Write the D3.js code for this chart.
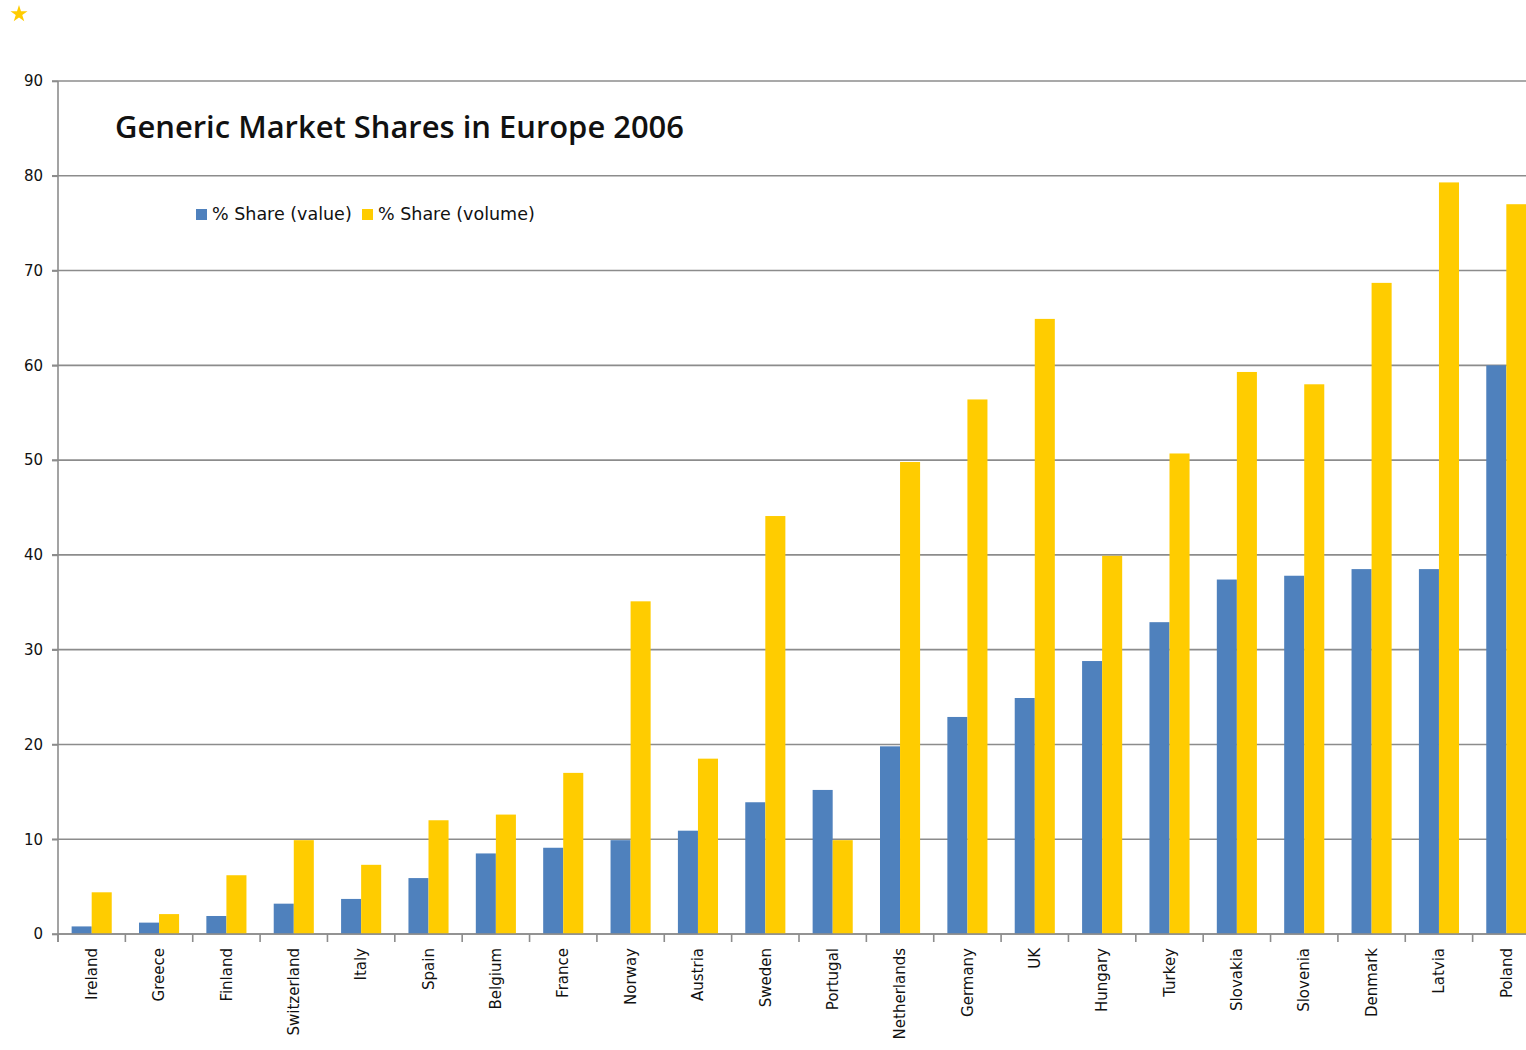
<!DOCTYPE html>
<html>
<head>
<meta charset="utf-8">
<script src="https://cdn.jsdelivr.net/npm/d3@7"></script>
<style>
  body { margin: 0; background: #fff; }
  svg { display: block; }
</style>
</head>
<body>
<script>
// data
const countries = ["Ireland", "Greece", "Finland", "Switzerland", "Italy", "Spain", "Belgium", "France",
  "Norway", "Austria", "Sweden", "Portugal", "Netherlands", "Germany", "UK", "Hungary", "Turkey",
  "Slovakia", "Slovenia", "Denmark", "Latvia", "Poland"]
const shareValue = [0.8, 1.2, 1.9, 3.2, 3.7, 5.9, 8.5, 9.1, 9.9, 10.9, 13.9, 15.2, 19.8, 22.9, 24.9,
  28.8, 32.9, 37.4, 37.8, 38.5, 38.5, 60.0]
const shareVolume = [4.4, 2.1, 6.2, 9.9, 7.3, 12.0, 12.6, 17.0, 35.1, 18.5, 44.1, 9.9, 49.8, 56.4, 64.9,
  39.9, 50.7, 59.3, 58.0, 68.7, 79.3, 77.0]
const seriesNames = ["% Share (value)", "% Share (volume)"]
const yTicks = [0, 10, 20, 30, 40, 50, 60, 70, 80, 90]

const colors = ["#4f81bd", "#ffcc00"]
const W = 1526, H = 1050
const margin = {top: 81, left: 58, bottom: 116}
const plotRight = 1540

const svg = d3.select('body').append('svg')
    .attr('width', W)
    .attr('height', H)

const x = d3.scaleBand()
    .domain(countries)
    .range([margin.left, plotRight])
    .paddingInner(0)
    .paddingOuter(0)

// two bars per country, gap width roughly 70%
const xSub = d3.scaleBand()
    .domain([0, 1])
    .range([0, x.bandwidth()])
    .paddingInner(0)
    .paddingOuter(0.68)

const y = d3.scaleLinear()
    .domain([0, 90])
    .range([H - margin.bottom, margin.top])

// gridlines
svg.append('g')
    .selectAll('line')
    .data(yTicks)
    .join('line')
        .attr('x1', margin.left - 6)
        .attr('x2', W)
        .attr('y1', d => y(d))
        .attr('y2', d => y(d))
        .attr('stroke', '#8c8c8c')
        .attr('stroke-width', 1.6)

// bars
const rows = countries.map((c, i) => ({country: c, vals: [shareValue[i], shareVolume[i]]}))
svg.append('g')
    .selectAll('g')
    .data(rows)
    .join('g')
        .attr('transform', d => 'translate(' + x(d.country) + ',0)')
    .selectAll('rect')
    .data(d => d.vals.map((v, k) => ({k: k, v: v})))
    .join('rect')
        .attr('x', d => xSub(d.k))
        .attr('width', xSub.bandwidth())
        .attr('y', d => y(d.v))
        .attr('height', d => y(0) - y(d.v))
        .attr('fill', d => colors[d.k])

// y axis
const yAxis = svg.append('g')
    .attr('transform', 'translate(' + margin.left + ',0)')
    .call(d3.axisLeft(y).tickValues(yTicks).tickSize(6).tickPadding(9))
yAxis.select('.domain').attr('stroke', '#8c8c8c').attr('stroke-width', 1.6)
    .attr('d', 'M0,' + y(90) + 'V' + (y(0) + 8))
yAxis.selectAll('.tick line').attr('stroke', '#8c8c8c').attr('stroke-width', 1.6)
yAxis.selectAll('text')
    .attr('font-family', 'Verdana, "DejaVu Sans", sans-serif')
    .attr('font-size', 15)
    .attr('fill', '#111')

// x axis
const xAxis = svg.append('g')
    .attr('transform', 'translate(0,' + y(0) + ')')
    .call(d3.axisBottom(x).tickSize(0).tickPadding(0))
xAxis.select('.domain').remove()
xAxis.selectAll('.tick text')
    .attr('transform', 'rotate(-90)')
    .attr('x', -14)
    .attr('y', 0)
    .attr('dy', '0.35em')
    .attr('text-anchor', 'end')
    .attr('font-family', 'Verdana, "DejaVu Sans", sans-serif')
    .attr('font-size', 15)
    .attr('fill', '#111')
svg.append('line')
    .attr('x1', margin.left).attr('x2', W)
    .attr('y1', y(0)).attr('y2', y(0))
    .attr('stroke', '#8c8c8c').attr('stroke-width', 1.6)
svg.append('g')
    .selectAll('line')
    .data(countries)
    .join('line')
        .attr('x1', d => x(d)).attr('x2', d => x(d))
        .attr('y1', y(0)).attr('y2', y(0) + 8)
        .attr('stroke', '#8c8c8c').attr('stroke-width', 1.6)

// title
svg.append('text')
    .attr('x', 115)
    .attr('y', 138)
    .attr('font-family', '"Open Sans", "DejaVu Sans", sans-serif')
    .attr('font-weight', 600)
    .attr('font-size', 30)
    .attr('textLength', 569)
    .attr('lengthAdjust', 'spacingAndGlyphs')
    .attr('fill', '#111')
    .text('Generic Market Shares in Europe 2006')

// legend
const legend = svg.append('g').attr('transform', 'translate(196,209)')
let lx = 0
seriesNames.forEach((name, i) => {
    legend.append('rect')
        .attr('x', lx).attr('y', 0)
        .attr('width', 11).attr('height', 11)
        .attr('fill', colors[i])
    legend.append('text')
        .attr('x', lx + 16).attr('y', 11)
        .attr('font-family', 'Verdana, "DejaVu Sans", sans-serif')
        .attr('font-size', 17.5)
        .attr('fill', '#111')
        .text(name)
    lx += 166
})

// small star in the corner
svg.append('path')
    .attr('d', d3.symbol(d3.symbolStar, 90)())
    .attr('transform', 'translate(19,14)')
    .attr('fill', '#ffcc00')
</script>
</body>
</html>
